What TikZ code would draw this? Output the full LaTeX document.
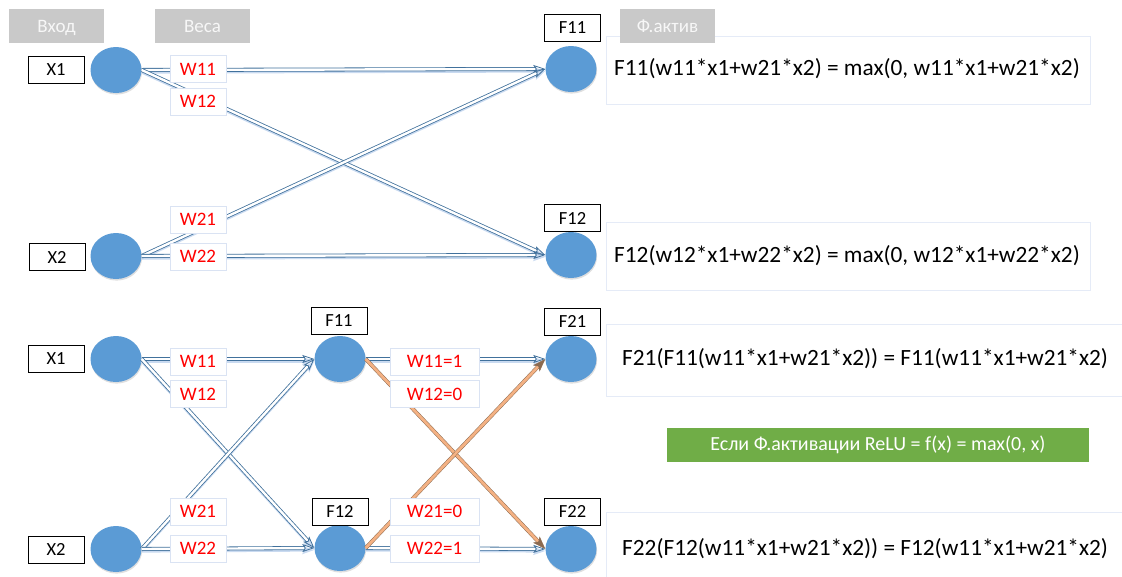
\documentclass[tikz,border=0pt]{standalone}
\usepackage{fontspec}
\setmainfont{Carlito}
\usetikzlibrary{arrows.meta,shapes.geometric,shadows}
\definecolor{nodeblue}{HTML}{5B9BD5}
\definecolor{linkblue}{HTML}{41719C}
\definecolor{glowblue}{HTML}{C9DAF0}
\definecolor{hdrgray}{HTML}{C9C9C9}
\definecolor{paleline}{HTML}{DAE3F3}
\definecolor{relugreen}{HTML}{70AD47}
\definecolor{orangefill}{HTML}{F4B183}
\definecolor{orangeedge}{HTML}{8C6A4F}
\begin{document}
\begin{tikzpicture}[x=1pt,y=-1pt,
  neuron/.style={ellipse, fill=nodeblue, minimum width=51pt, minimum height=46pt, inner sep=0pt,
    drop shadow={shadow xshift=0.6pt, shadow yshift=-1.6pt, opacity=0.25, fill=black!50}},
  tag/.style={draw=black, line width=0.8pt, fill=white, minimum width=56pt, minimum height=27pt,
    inner sep=0pt, font=\fontsize{18.5}{20}\selectfont},
  wbox/.style={draw=paleline, fill=white, line width=0.8pt, minimum width=56pt, minimum height=27pt,
    inner sep=0pt, text=red, font=\fontsize{19}{21}\selectfont},
  wwide/.style={wbox, minimum width=89pt},
  header/.style={fill=hdrgray, minimum width=95pt, minimum height=34pt, inner sep=0pt,
    text height=13pt, text depth=1pt,
    text=white!94!gray, font=\fontsize{19}{21}\selectfont},
  panel/.style={draw=paleline!70, fill=white, line width=0.6pt},
  formula/.style={anchor=west, inner sep=0pt, font=\fontsize{23.3}{26}\selectfont},
  glow/.style={draw=glowblue, line width=3.2pt, transform canvas={yshift=-2pt},
    -{Stealth[length=12pt, width=8pt, inset=2.5pt]}},
  link/.style={draw=linkblue, line width=0.8pt, double=white, double distance=2.4pt,
    -{Stealth[open, length=12pt, width=8pt, inset=2.5pt]}},
  hot/.style={draw=orangeedge, line width=0.5pt, double=orangefill, double distance=2.8pt,
    -{Stealth[length=13pt, width=9pt, inset=3pt]}}
]
\useasboundingbox (0,0) rectangle (1122,576);

% formula panels
\draw[panel] (606,36) rectangle (1090,104);
\draw[panel] (606,222) rectangle (1090,290);
\draw[panel] (606,324) rectangle (1130,396);
\draw[panel] (606,512) rectangle (1130,590);
\node[formula] (e1) at (614,69) {F11(w11*x1+w21*x2) = max(0, w11*x1+w21*x2)};
\node[formula] (e2) at (614,256) {F12(w12*x1+w22*x2) = max(0, w12*x1+w22*x2)};
\node[formula] (e3) at (622,359) {F21(F11(w11*x1+w21*x2)) = F11(w11*x1+w21*x2)};
\node[formula] (e4) at (622,549) {F22(F12(w11*x1+w21*x2)) = F12(w11*x1+w21*x2)};

% ReLU note
\node[fill=relugreen, minimum width=422pt, minimum height=34pt, inner sep=0pt, text=white,
  font=\fontsize{20}{22}\selectfont] (relu) at (878,445) {Если Ф.активации ReLU = f(x) = max(0, x)};

% neurons, upper network
\node[neuron] (n1) at (116,70) {};
\node[neuron] (n2) at (116,256) {};
\node[neuron] (f11) at (571,69) {};
\node[neuron] (f12) at (571,255) {};

% neurons, lower network
\node[neuron] (m1) at (116,359) {};
\node[neuron] (m2) at (116,549) {};
\node[neuron] (h1) at (340,359) {};
\node[neuron] (h2) at (340,548) {};
\node[neuron] (o1) at (571,359) {};
\node[neuron] (o2) at (571,549) {};

% blue connections with their soft underglow
\foreach \a/\b in {n1/f11, n1/f12, n2/f11, n2/f12, m1/h1, m1/h2, m2/h1, m2/h2, h1/o1, h2/o2}
  \draw[glow] (\a.east) -- (\b.west);
\foreach \a/\b in {n1/f11, n1/f12, n2/f11, n2/f12, m1/h1, m1/h2, m2/h1, m2/h2, h1/o1, h2/o2}
  \draw[link] (\a.east) -- (\b.west);

% highlighted cross connections
\draw[hot] (h1.east) -- (o2.west);
\draw[hot] (h2.east) -- (o1.west);

% weights
\node[wbox] (w11a) at (198,69) {W11};
\node[wbox] (w12a) at (198,101.5) {W12};
\node[wbox] (w21a) at (198,219.5) {W21};
\node[wbox] (w22a) at (198,256.5) {W22};
\node[wbox] (w11b) at (198,361.5) {W11};
\node[wbox] (w12b) at (198,394) {W12};
\node[wbox] (w21b) at (198,511.5) {W21};
\node[wbox] (w22b) at (198,548.5) {W22};
\node[wwide] (v11) at (434.5,361.5) {W11=1};
\node[wwide] (v12) at (434.5,394) {W12=0};
\node[wwide] (v21) at (434.5,511.5) {W21=0};
\node[wwide] (v22) at (434.5,548.5) {W22=1};

% name tags
\node[tag] (tx1) at (56,69.5) {X1};
\node[tag] (tx2) at (57,257) {X2};
\node[tag] (tf11) at (572.5,28) {F11};
\node[tag] (tf12) at (572.5,218) {F12};
\node[tag] (ux1) at (56,359) {X1};
\node[tag] (ux2) at (56,549.5) {X2};
\node[tag] (uf11) at (339,320.5) {F11};
\node[tag] (uf12) at (340,511.5) {F12};
\node[tag] (uf21) at (572.5,321.5) {F21};
\node[tag] (uf22) at (572.5,511.5) {F22};

% column headers
\node[header] (hin) at (56.5,26) {Вход};
\node[header] (hw) at (202.5,26) {Веса};
\node[header] (hact) at (667.5,26) {Ф.актив};
\end{tikzpicture}
\end{document}
